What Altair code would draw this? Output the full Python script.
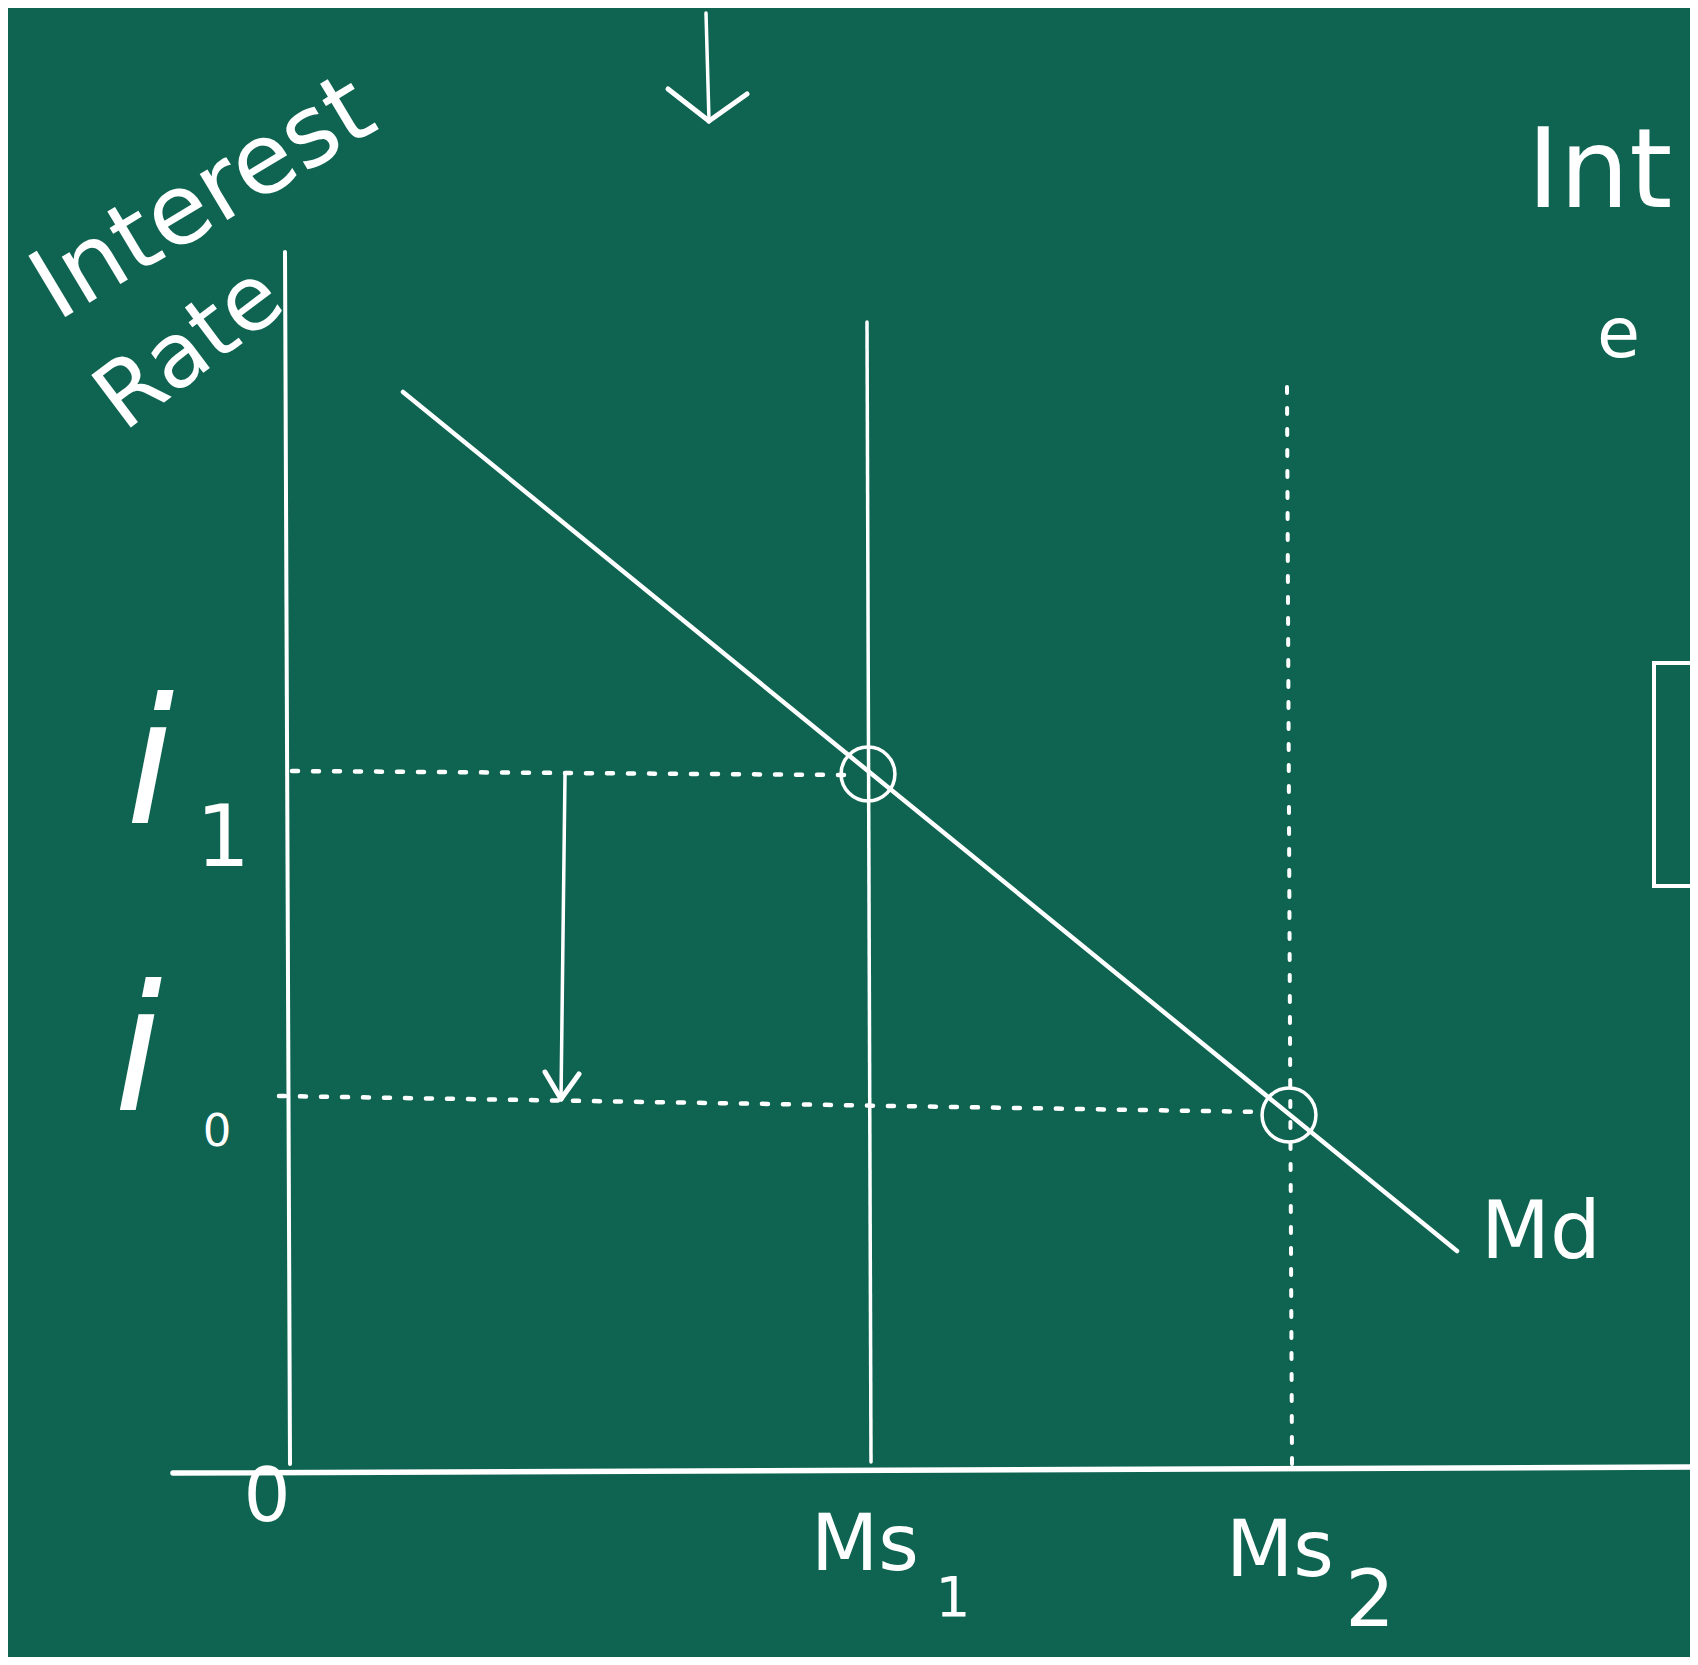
import altair as alt
import pandas as pd

BG = "#0f6451"
INK = "#ffffff"
FONT = "DejaVu Sans"

# ---- diagram values (units: origin at the corner of the axes) ----
# axes
yaxis_x, yaxis_y, yaxis_x2, yaxis_y2 = [-0.3], [121.8], [0.2], [0.6]
xaxis_x, xaxis_y, xaxis_x2, xaxis_y2 = [-11.5], [-0.3], [141.0], [0.3]

# money demand curve Md (end points)
md_q = [11.5, 116.9]
md_i = [107.8, 21.9]

# money supply lines Ms1 (solid) and Ms2 (dotted)
ms1_q, ms1_i, ms1_q2, ms1_i2 = [57.9], [114.8], [58.3], [0.8]
ms2_q, ms2_i, ms2_q2, ms2_i2 = [99.9], [108.3], [100.4], [0.6]

# dashed interest-rate guides i1 and i0
guide_q = [0.4, -0.9]
guide_i = [69.9, 37.4]
guide_q2 = [55.7, 97.7]
guide_i2 = [69.5, 35.8]

# equilibrium points
eq_q = [58.0, 100.1]
eq_i = [69.6, 35.5]

# arrow shafts (middle arrow, top arrow)
shaft_q = [27.7, 41.8]
shaft_i = [69.6, 145.7]
shaft_q2 = [27.3, 42.1]
shaft_i2 = [37.1, 134.9]

# arrow heads (arm start -> tip)
head_q = [25.7, 29.1, 38.0, 45.9]
head_i = [39.8, 39.6, 138.1, 137.6]
head_q2 = [27.3, 27.3, 42.1, 42.1]
head_i2 = [37.1, 37.1, 134.9, 134.9]

# frame of the next panel on the right
box_q, box_q2, box_i, box_i2 = [136.6], [150.0], [80.7], [58.4]

# labels
rate_main = ["i", "i"]
rate_main_q = [-13.8, -15.0]
rate_main_i = [64.7, 36.0]
rate_sub1 = ["1"]; rate_sub1_q = [-6.5]; rate_sub1_i = [60.4]
rate_sub0 = ["0"]; rate_sub0_q = [-7.1]; rate_sub0_i = [32.4]

origin_lbl = ["0"]; origin_q = [-2.1]; origin_i = [-5.1]

ms_lbl = ["Ms", "Ms"]; ms_lbl_q = [57.7, 99.2]; ms_lbl_i = [-10.0, -10.6]
ms_sub1 = ["1"]; ms_sub1_q = [66.5]; ms_sub1_i = [-14.6]
ms_sub2 = ["2"]; ms_sub2_q = [108.2]; ms_sub2_i = [-15.6]

md_lbl = ["Md"]; md_lbl_q = [119.3]; md_lbl_i = [21.2]

title1 = ["Interest"]; title1_q = [-8.4]; title1_i = [127.0]
title2 = ["Rate"]; title2_q = [-9.8]; title2_i = [112.1]

right1 = ["Int"]; right1_q = [123.9]; right1_i = [126.3]
right2 = ["e"]; right2_q = [130.9]; right2_i = [111.3]

# ---- scales ----
XS = alt.Scale(domain=[-28, 140.2], nice=False, zero=False)
YS = alt.Scale(domain=[-18.7, 146.2], nice=False, zero=False)


def seg_df(q, i, q2, i2):
    return pd.DataFrame({"q": q, "i": i, "q2": q2, "i2": i2})


def pt_df(q, i, t=None):
    d = {"q": q, "i": i}
    if t is not None:
        d["t"] = t
    return pd.DataFrame(d)


def seg_enc(ch):
    return ch.encode(
        x=alt.X("q:Q", scale=XS, axis=None),
        y=alt.Y("i:Q", scale=YS, axis=None),
        x2="q2:Q",
        y2="i2:Q",
    )


def rule(df, width, dash=None, clip=False):
    kw = dict(color=INK, strokeWidth=width, strokeCap="round", clip=clip)
    if dash is not None:
        kw["strokeDash"] = dash
    return seg_enc(alt.Chart(df).mark_rule(**kw))


def text(df, size, align="center", angle=None, clip=False, style="normal", baseline="alphabetic"):
    kw = dict(color=INK, font=FONT, fontSize=size, align=align, baseline=baseline,
              clip=clip, fontStyle=style)
    if angle is not None:
        kw["angle"] = angle
    return alt.Chart(df).mark_text(**kw).encode(
        x=alt.X("q:Q", scale=XS, axis=None),
        y=alt.Y("i:Q", scale=YS, axis=None),
        text="t:N",
    )


layers = []
layers.append(rule(seg_df(yaxis_x, yaxis_y, yaxis_x2, yaxis_y2), 4))
layers.append(rule(seg_df(xaxis_x, xaxis_y, xaxis_x2, xaxis_y2), 5.5, clip=True))
layers.append(rule(seg_df([md_q[0]], [md_i[0]], [md_q[1]], [md_i[1]]), 4.5))
layers.append(rule(seg_df(ms1_q, ms1_i, ms1_q2, ms1_i2), 3.5))
layers.append(rule(seg_df(ms2_q, ms2_i, ms2_q2, ms2_i2), 4, dash=[6, 15]))
layers.append(rule(seg_df(guide_q, guide_i, guide_q2, guide_i2), 4.5, dash=[6, 15]))
layers.append(rule(seg_df(shaft_q, shaft_i, shaft_q2, shaft_i2), 3.5))
layers.append(rule(seg_df(head_q, head_i, head_q2, head_i2), 5))

# box of the right-hand panel
layers.append(
    alt.Chart(seg_df(box_q, box_i, box_q2, box_i2))
    .mark_rect(fill=None, stroke=INK, strokeWidth=4, clip=True)
    .encode(
        x=alt.X("q:Q", scale=XS, axis=None),
        y=alt.Y("i:Q", scale=YS, axis=None),
        x2="q2:Q",
        y2="i2:Q",
    )
)

# equilibrium circles
layers.append(
    alt.Chart(pt_df(eq_q, eq_i))
    .mark_point(shape="circle", size=2900, filled=False, color=INK, strokeWidth=3.5, opacity=1)
    .encode(
        x=alt.X("q:Q", scale=XS, axis=None),
        y=alt.Y("i:Q", scale=YS, axis=None),
    )
)

# labels
layers.append(text(pt_df(rate_main_q, rate_main_i, rate_main), 175, style="italic"))
layers.append(text(pt_df(rate_sub1_q, rate_sub1_i, rate_sub1), 85))
layers.append(text(pt_df(rate_sub0_q, rate_sub0_i, rate_sub0), 45))
layers.append(text(pt_df(origin_q, origin_i, origin_lbl), 74))
layers.append(text(pt_df(ms_lbl_q, ms_lbl_i, ms_lbl), 78))
layers.append(text(pt_df(ms_sub1_q, ms_sub1_i, ms_sub1), 55))
layers.append(text(pt_df(ms_sub2_q, ms_sub2_i, ms_sub2), 78))
layers.append(text(pt_df(md_lbl_q, md_lbl_i, md_lbl), 80, align="left"))
layers.append(text(pt_df(title1_q, title1_i, title1), 98, angle=329, baseline="middle"))
layers.append(text(pt_df(title2_q, title2_i, title2), 90, angle=323, baseline="middle"))
layers.append(text(pt_df(right1_q, right1_i, right1), 110, align="left", clip=True))
layers.append(text(pt_df(right2_q, right2_i, right2), 70, align="left", clip=True))

chart = (
    alt.layer(*layers)
    .properties(
        width=1682,
        height=1649,
        background=BG,
        padding=0,
        autosize=alt.AutoSizeParams(type="none"),
    )
    .configure_view(stroke=None)
)

chart.save("out.html", embed_options={"renderer": "svg", "actions": False})
